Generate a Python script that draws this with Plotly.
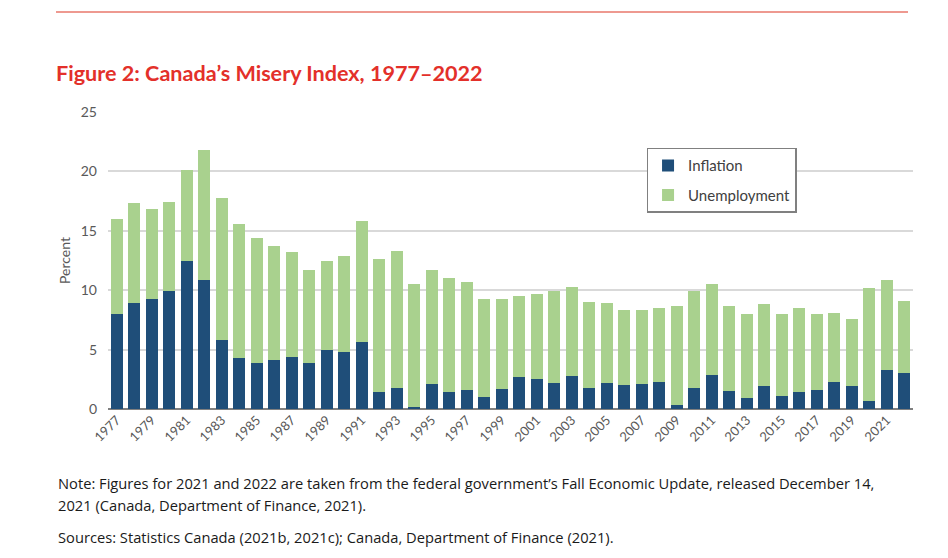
import plotly.graph_objects as go

# ------------------------------------------------------------
# DATA
# ------------------------------------------------------------
years = list(range(1977, 2023))

inflation = [
    8.0, 8.9, 9.3, 9.9, 12.5, 10.9, 5.8, 4.3, 3.9, 4.1,
    4.4, 3.9, 5.0, 4.8, 5.6, 1.4, 1.8, 0.2, 2.1, 1.4,
    1.6, 1.0, 1.7, 2.7, 2.5, 2.2, 2.8, 1.8, 2.2, 2.0,
    2.1, 2.3, 0.3, 1.8, 2.9, 1.5, 0.9, 1.9, 1.1, 1.4,
    1.6, 2.3, 1.9, 0.7, 3.3, 3.0,
]

misery_total = [
    16.0, 17.3, 16.8, 17.4, 20.1, 21.8, 17.8, 15.6, 14.4, 13.7,
    13.2, 11.7, 12.5, 12.9, 15.8, 12.6, 13.3, 10.5, 11.7, 11.0,
    10.7, 9.3, 9.3, 9.5, 9.7, 9.9, 10.3, 9.0, 8.9, 8.3,
    8.3, 8.5, 8.7, 9.9, 10.5, 8.7, 8.0, 8.8, 8.0, 8.5,
    8.0, 8.1, 7.6, 10.2, 10.9, 9.1,
]

unemployment = [round(t - i, 1) for t, i in zip(misery_total, inflation)]

tick_years = [str(y) for y in range(1977, 2023, 2)]

# ------------------------------------------------------------
# FIGURE
# ------------------------------------------------------------
INFL_COLOR = "#1f4e79"
UNEMP_COLOR = "#a9d18e"
TEXT_COLOR = "#595959"
FONT = "Lato, Open Sans, sans-serif"

# the page body has an 8px margin, so the figure is sized to fit inside it
W, H = 932, 542
OFF = 8

fig = go.Figure()

fig.add_trace(go.Bar(
    x=[str(y) for y in years], y=inflation, name="Inflation",
    legendgroup="infl",
    marker=dict(color=INFL_COLOR, line=dict(width=0)),
))
fig.add_trace(go.Bar(
    x=[str(y) for y in years], y=unemployment, name="Unemployment",
    legendgroup="unemp",
    marker=dict(color=UNEMP_COLOR, line=dict(width=0)),
))

fig.update_layout(
    barmode="stack",
    bargap=0.3,
    width=W,
    height=H,
    margin=dict(l=108 - OFF, r=W - (913 - OFF), t=112 - OFF, b=H - (409 - OFF)),
    paper_bgcolor="white",
    plot_bgcolor="white",
    font=dict(family=FONT, size=14, color=TEXT_COLOR),
    title=dict(
        text="<b>Figure 2: Canada’s Misery Index, 1977–2022</b>",
        font=dict(family=FONT, size=21.6, color="#e3302a"),
        x=(56 - OFF) / W, xanchor="left", xref="container",
        y=1 - (73 - OFF) / H, yanchor="middle", yref="container",
    ),
    legend=dict(
        x=0.669, y=0.88, xanchor="left", yanchor="top",
        bordercolor="#808080", borderwidth=1.5,
        bgcolor="white",
        font=dict(size=15, color="#404040"),
        traceorder="grouped",
        tracegroupgap=7,
        itemwidth=30,
    ),
    xaxis=dict(
        type="category",
        tickmode="array",
        tickvals=tick_years,
        ticktext=tick_years,
        tickangle=-45,
        tickfont=dict(size=13, color=TEXT_COLOR),
        showgrid=False,
        showline=False,
        ticks="",
    ),
    yaxis=dict(
        range=[0, 25],
        tickvals=[0, 5, 10, 15, 20, 25],
        tickfont=dict(size=14, color=TEXT_COLOR),
        showgrid=True,
        gridcolor="#d9d9d9",
        gridwidth=1.5,
        zeroline=True,
        zerolinecolor="#808080",
        zerolinewidth=2,
        ticks="",
        ticklabelstandoff=10,
        title=dict(text="Percent", font=dict(size=14, color=TEXT_COLOR), standoff=6),
    ),
    showlegend=True,
)

# red rule across the top
fig.add_shape(
    type="line", xref="paper", yref="paper",
    x0=(56 - 108) / 805, x1=(908 - 108) / 805,
    y0=(409 - 12) / 297, y1=(409 - 12) / 297,
    line=dict(color="#e8776b", width=1.5),
)

# notes
notes = [
    ("Note: Figures for 2021 and 2022 are taken from the federal government’s Fall Economic Update, released December 14,", 483),
    ("2021 (Canada, Department of Finance, 2021).", 505),
    ("Sources: Statistics Canada (2021b, 2021c); Canada, Department of Finance (2021).", 537),
]
for text, ypx in notes:
    fig.add_annotation(
        text=text, xref="paper", yref="paper",
        x=(56 - 108) / 805, y=(409 - ypx) / 297,
        xanchor="left", yanchor="middle", showarrow=False,
        font=dict(family="Open Sans, Lato, sans-serif", size=14.7, color="#1a1a1a"),
    )

fig.write_html("out.html")
